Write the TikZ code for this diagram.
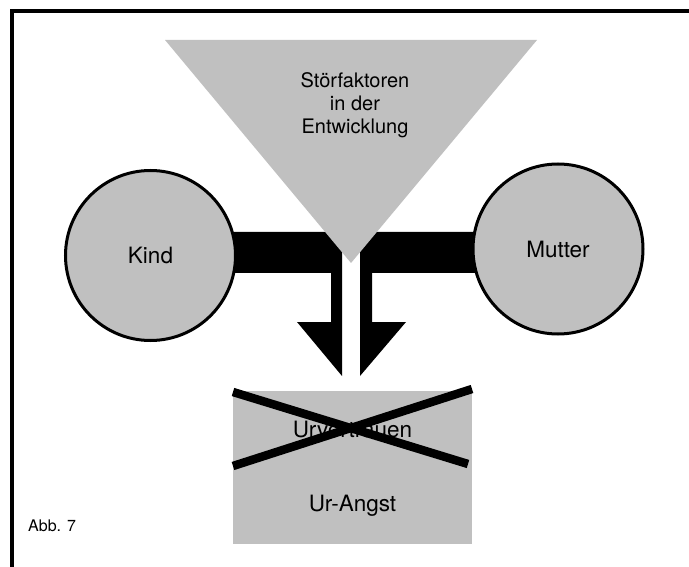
\documentclass[tikz,border=0pt]{standalone}
\usepackage{fontspec}
\setmainfont{TeX Gyre Heros}
\definecolor{fillgray}{HTML}{C0C0C0}
\begin{document}
\begin{tikzpicture}[x=1pt,y=-1pt,
  circ/.style={circle,draw=black,line width=3pt,fill=fillgray,minimum size=170pt,inner sep=0pt,font=\fontsize{22.5}{27}\selectfont},
  boxpart/.style={rectangle,fill=fillgray,minimum width=239pt,inner sep=0pt,font=\fontsize{22.5}{27}\selectfont},
  bar/.style={fill=black},
  cross/.style={line width=8.5pt,black}]
\useasboundingbox (0,0) rectangle (689,567);
% frame
\draw[line width=4pt] (689,11) -- (12,11) -- (12,567);
% bars with arrows
\fill[bar] (150,232) -- (342,232) -- (342,376) -- (297,322) -- (331,322) -- (331,273) -- (150,273) -- cycle;
\fill[bar] (558,232) -- (360,232) -- (360,376) -- (406,322) -- (372,322) -- (372,273) -- (558,273) -- cycle;
% triangle
\fill[fillgray] (165,40) coordinate (tl) -- (537,40) coordinate (tr) -- (351,263) coordinate (tip) -- cycle;
\node[align=center,font=\fontsize{20}{23}\selectfont,anchor=base,inner sep=0pt] (stoer) at (355,134) {Störfaktoren\\in der\\Entwicklung};
% circles
\node[circ] (kind) at (150.5,255.5) {Kind};
\node[circ] (mutter) at (558,249) {Mutter};
% boxes
\node[boxpart,minimum height=77pt] (urv) at (352.5,429.5) {Urvertrauen};
\node[boxpart,minimum height=76pt] (angst) at (352.5,506) {Ur-Angst};
% cross
\draw[cross] (233,392) -- (468,464);
\draw[cross] (233,466) -- (472,389);
% figure label
\node[anchor=base west,inner sep=0pt,font=\fontsize{16}{19}\selectfont] (abb) at (28,531) {Abb. 7};
\end{tikzpicture}
\end{document}
